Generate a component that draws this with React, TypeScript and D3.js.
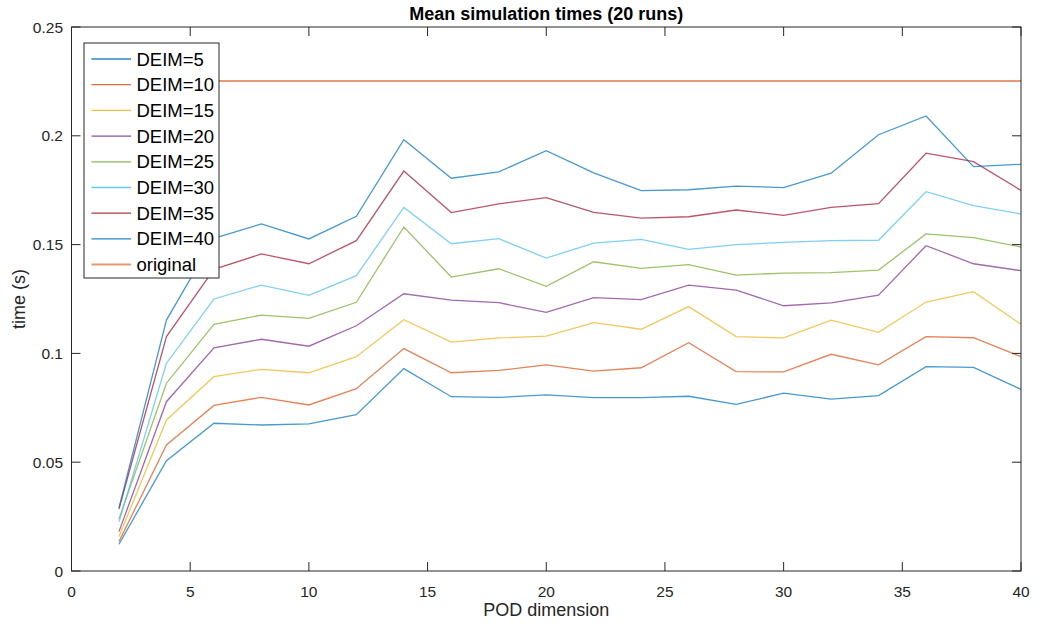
import React from "react";
import * as d3 from "d3";

const podDims = [2, 4, 6, 8, 10, 12, 14, 16, 18, 20, 22, 24, 26, 28, 30, 32, 34, 36, 38, 40];
const seriesNames = ["DEIM=5", "DEIM=10", "DEIM=15", "DEIM=20", "DEIM=25", "DEIM=30", "DEIM=35", "DEIM=40", "original"];

const deim5 = [0.0123, 0.0507, 0.0679, 0.0671, 0.0676, 0.0718, 0.093, 0.0801, 0.0798, 0.0809, 0.0797, 0.0797, 0.0803, 0.0766, 0.0817, 0.079, 0.0806, 0.0939, 0.0936, 0.0835];
const deim10 = [0.0135, 0.0579, 0.0761, 0.0798, 0.0763, 0.0838, 0.1022, 0.0911, 0.0922, 0.0947, 0.0919, 0.0934, 0.1049, 0.0916, 0.0915, 0.0996, 0.0947, 0.1077, 0.1072, 0.0985];
const deim15 = [0.0158, 0.0694, 0.0893, 0.0927, 0.0911, 0.0985, 0.1155, 0.1052, 0.1071, 0.1079, 0.1141, 0.1111, 0.1215, 0.1077, 0.1071, 0.1153, 0.1097, 0.1236, 0.1284, 0.1134];
const deim20 = [0.0181, 0.0778, 0.1026, 0.1065, 0.1033, 0.1127, 0.1274, 0.1245, 0.1233, 0.1189, 0.1256, 0.1247, 0.1314, 0.1291, 0.1219, 0.1232, 0.1268, 0.1495, 0.1412, 0.138];
const deim25 = [0.0239, 0.0863, 0.1134, 0.1176, 0.1161, 0.1235, 0.1581, 0.1351, 0.1389, 0.1308, 0.1421, 0.1391, 0.1408, 0.136, 0.1369, 0.1371, 0.1383, 0.1549, 0.1532, 0.1489];
const deim30 = [0.0226, 0.0955, 0.125, 0.1314, 0.1267, 0.1357, 0.1671, 0.1504, 0.1527, 0.1438, 0.1507, 0.1524, 0.1478, 0.15, 0.151, 0.1518, 0.152, 0.1743, 0.1679, 0.1641];
const deim35 = [0.0285, 0.1077, 0.1386, 0.1457, 0.1412, 0.1518, 0.1838, 0.1647, 0.1687, 0.1716, 0.1648, 0.1622, 0.1628, 0.1659, 0.1634, 0.1671, 0.1688, 0.192, 0.1881, 0.1749];
const deim40 = [0.029, 0.1153, 0.1529, 0.1595, 0.1526, 0.163, 0.1982, 0.1805, 0.1834, 0.1932, 0.183, 0.1748, 0.1752, 0.1769, 0.1762, 0.1828, 0.2005, 0.2091, 0.1858, 0.1869];
const original = [0.2252, 0.2252, 0.2252, 0.2252, 0.2252, 0.2252, 0.2252, 0.2252, 0.2252, 0.2252, 0.2252, 0.2252, 0.2252, 0.2252, 0.2252, 0.2252, 0.2252, 0.2252, 0.2252, 0.2252];

const xTicks = [0, 5, 10, 15, 20, 25, 30, 35, 40];
const yTicks = [0, 0.05, 0.1, 0.15, 0.2, 0.25];
const yTickLabels = ["0", "0.05", "0.1", "0.15", "0.2", "0.25"];

const colors = ["#0072BD", "#D95319", "#EDB120", "#7E2F8E", "#77AC30", "#4DBEEE", "#A2142F", "#0072BD", "#D95319"];
const allSeries = [deim5, deim10, deim15, deim20, deim25, deim30, deim35, deim40, original];

const W = 1038;
const H = 626;
const L = 71.5, R = 1021, T = 27, B = 571;
const FONT = "Arial, 'Liberation Sans', Helvetica, sans-serif";
const AX = "#262626";

export default function App() {
  const x = d3.scaleLinear().domain([0, 40]).range([L, R]);
  const y = d3.scaleLinear().domain([0, 0.25]).range([B, T]);
  const line = d3
    .line<number>()
    .x((_, i) => x(podDims[i]))
    .y((d) => y(d));

  const legX = 84, legY = 43, legW = 135, legH = 235;
  const rowH = 25.7;

  return (
    <svg width={W} height={H} style={{ position: "absolute", left: 0, top: 0, background: "#fff" }}>
      <rect x={0} y={0} width={W} height={H} fill="#fff" />
      {/* series */}
      {allSeries.map((s, si) => (
        <path
          key={si}
          d={line(s) || ""}
          fill="none"
          stroke={colors[si]}
          strokeWidth={si === 8 ? 2 : 1.3}
          strokeOpacity={si === 8 ? 0.6 : 0.72}
        />
      ))}
      {/* axes box */}
      <rect x={L} y={T} width={R - L} height={B - T} fill="none" stroke={AX} strokeWidth={1} />
      {xTicks.map((t) => (
        <g key={"xt" + t}>
          <line x1={x(t)} x2={x(t)} y1={B} y2={B - 9} stroke={AX} />
          <line x1={x(t)} x2={x(t)} y1={T} y2={T + 9} stroke={AX} />
          <text x={x(t)} y={597} textAnchor="middle" fontFamily={FONT} fontSize={15.5} fill={AX}>
            {t}
          </text>
        </g>
      ))}
      {yTicks.map((t, i) => (
        <g key={"yt" + t}>
          <line x1={L} x2={L + 9} y1={y(t)} y2={y(t)} stroke={AX} />
          <line x1={R} x2={R - 9} y1={y(t)} y2={y(t)} stroke={AX} />
          <text x={63} y={y(t) + 5.5} textAnchor="end" fontFamily={FONT} fontSize={15.5} fill={AX}>
            {yTickLabels[i]}
          </text>
        </g>
      ))}
      {/* title */}
      <text x={(L + R) / 2} y={20} textAnchor="middle" fontFamily={FONT} fontSize={18} fontWeight="bold" fill="#000">
        Mean simulation times (20 runs)
      </text>
      {/* axis labels */}
      <text x={(L + R) / 2} y={616} textAnchor="middle" fontFamily={FONT} fontSize={18} fill={AX}>
        POD dimension
      </text>
      <text
        transform={`translate(25,${(T + B) / 2}) rotate(-90)`}
        textAnchor="middle"
        fontFamily={FONT}
        fontSize={18}
        fill={AX}
      >
        time (s)
      </text>
      {/* legend */}
      <rect x={legX} y={legY} width={legW} height={legH} fill="#fff" stroke={AX} strokeWidth={1} />
      {seriesNames.map((n, i) => {
        const cy = legY + 16 + i * rowH;
        return (
          <g key={"lg" + n}>
            <line
              x1={91.5}
              x2={131}
              y1={cy}
              y2={cy}
              stroke={colors[i]}
              strokeWidth={i === 8 ? 2 : 1.3}
              strokeOpacity={i === 8 ? 0.6 : 0.85}
            />
            <text x={136.5} y={cy + 6.5} fontFamily={FONT} fontSize={18.5} fill="#000">
              {n}
            </text>
          </g>
        );
      })}
    </svg>
  );
}
